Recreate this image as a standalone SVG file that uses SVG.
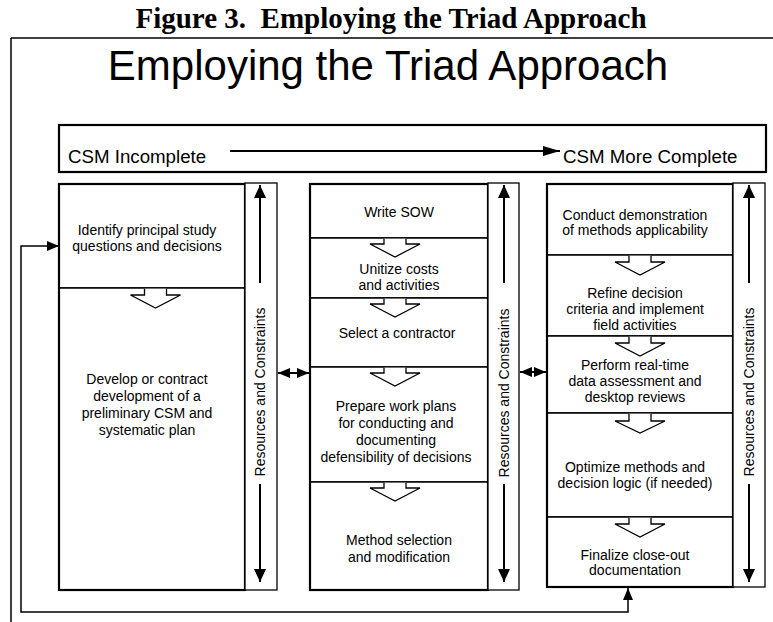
<svg xmlns="http://www.w3.org/2000/svg" width="773" height="622" viewBox="0 0 773 622">
<style>
  text { font-family: "Liberation Sans", Arial, sans-serif; fill: #000; }
  .t { font-size: 14px; text-anchor: middle; }
  .cell { fill: #fff; stroke: #000; stroke-width: 1.5; }
  .col { fill: none; stroke: #000; stroke-width: 2.2; }
  .strip { fill: #fff; stroke: #000; stroke-width: 1.3; }
  .chev { fill: #fff; stroke: #000; stroke-width: 1.3; }
  .ln { fill: none; stroke: #000; }
</style>
<defs>
  <marker id="ah" markerUnits="userSpaceOnUse" markerWidth="13" markerHeight="13" refX="13" refY="6" orient="auto-start-reverse">
    <path d="M0,0 L13,6 L0,12 z" fill="#000"/>
  </marker>
  <marker id="dbl" markerUnits="userSpaceOnUse" markerWidth="12" markerHeight="10" refX="12" refY="5" orient="auto-start-reverse">
    <path d="M0,0 L12,5 L0,10 z" fill="#000"/>
  </marker>
  <marker id="big" markerUnits="userSpaceOnUse" markerWidth="17" markerHeight="10" refX="17" refY="5" orient="auto">
    <path d="M0,0 L17,5 L0,10 z" fill="#000"/>
  </marker>
  <marker id="fb" markerUnits="userSpaceOnUse" markerWidth="12" markerHeight="10" refX="12" refY="5" orient="auto-start-reverse">
    <path d="M0,0 L12,5 L0,10 z" fill="#000"/>
  </marker>
</defs>
<rect width="773" height="622" fill="#fff"/>

<text x="391" y="28" xml:space="preserve" style="font-family:'Liberation Serif','Times New Roman',serif;font-weight:bold;font-size:29px;text-anchor:middle">Figure 3.  Employing the Triad Approach</text>
<g id="frame">
  <line x1="11" y1="38" x2="773" y2="38" stroke="#000" stroke-width="1.5"/>
  <line x1="11" y1="38" x2="11" y2="622" stroke="#000" stroke-width="1.5"/>
</g>
<text x="388" y="80" style="font-size:42px;text-anchor:middle">Employing the Triad Approach</text>

<g id="csm-bar">
  <rect x="59" y="125" width="707" height="47" fill="#fff" stroke="#000" stroke-width="2.2"/>
  <text x="68" y="163" style="font-size:18.7px">CSM Incomplete</text>
  <text x="563" y="163" style="font-size:18.7px">CSM More Complete</text>
</g>

<!-- Left column -->
<g id="step-identify">
  <rect class="cell" x="59" y="184" width="186" height="104"/>
  <text class="t" x="147" y="235">Identify principal study</text>
  <text class="t" x="147" y="251">questions and decisions</text>
</g>
<g id="step-develop">
  <rect class="cell" x="59" y="288" width="186" height="302"/>
  <text class="t" x="147" y="384">Develop or contract</text>
  <text class="t" x="147" y="401">development of a</text>
  <text class="t" x="147" y="418">preliminary CSM and</text>
  <text class="t" x="147" y="435">systematic plan</text>
</g>
<rect class="col" x="59" y="184" width="186" height="406"/>
<g id="rc-left">
  <rect class="strip" x="245" y="183" width="32" height="407"/>
  <text class="t" transform="translate(265,392) rotate(-90)">Resources and Constraints</text>
</g>

<!-- Middle column -->
<g id="step-sow">
  <rect class="cell" x="310" y="184" width="178" height="54"/>
  <text class="t" x="399" y="217">Write SOW</text>
</g>
<g id="step-unitize">
  <rect class="cell" x="310" y="238" width="178" height="60"/>
  <text class="t" x="399" y="274">Unitize costs</text>
  <text class="t" x="399" y="290">and activities</text>
</g>
<g id="step-contractor">
  <rect class="cell" x="310" y="298" width="178" height="69"/>
  <text class="t" x="397" y="338">Select a contractor</text>
</g>
<g id="step-workplans">
  <rect class="cell" x="310" y="367" width="178" height="115"/>
  <text class="t" x="396" y="411">Prepare work plans</text>
  <text class="t" x="396" y="428">for conducting and</text>
  <text class="t" x="396" y="445">documenting</text>
  <text class="t" x="396" y="462">defensibility of decisions</text>
</g>
<g id="step-method">
  <rect class="cell" x="310" y="482" width="178" height="108"/>
  <text class="t" x="399" y="545">Method selection</text>
  <text class="t" x="399" y="562">and modification</text>
</g>
<rect class="col" x="310" y="184" width="178" height="406"/>
<g id="rc-middle">
  <rect class="strip" x="488" y="183" width="31" height="407"/>
  <text class="t" transform="translate(509,393) rotate(-90)">Resources and Constraints</text>
</g>

<!-- Right column -->
<g id="step-demo">
  <rect class="cell" x="547" y="184" width="186" height="71"/>
  <text class="t" x="635" y="220">Conduct demonstration</text>
  <text class="t" x="635" y="235">of methods applicability</text>
</g>
<g id="step-refine">
  <rect class="cell" x="547" y="255" width="186" height="81"/>
  <text class="t" x="635" y="298">Refine decision</text>
  <text class="t" x="635" y="314">criteria and implement</text>
  <text class="t" x="635" y="330">field activities</text>
</g>
<g id="step-realtime">
  <rect class="cell" x="547" y="336" width="186" height="77"/>
  <text class="t" x="635" y="370">Perform real-time</text>
  <text class="t" x="635" y="386">data assessment and</text>
  <text class="t" x="635" y="402">desktop reviews</text>
</g>
<g id="step-optimize">
  <rect class="cell" x="547" y="413" width="186" height="104"/>
  <text class="t" x="635" y="472">Optimize methods and</text>
  <text class="t" x="635" y="488">decision logic (if needed)</text>
</g>
<g id="step-finalize">
  <rect class="cell" x="547" y="517" width="186" height="70"/>
  <text class="t" x="635" y="560">Finalize close-out</text>
  <text class="t" x="635" y="575">documentation</text>
</g>
<rect class="col" x="547" y="184" width="186" height="403"/>
<g id="rc-right">
  <rect class="strip" x="733" y="183" width="32" height="404"/>
  <text class="t" transform="translate(754,392) rotate(-90)">Resources and Constraints</text>
</g>

<g id="connectors">
  <!-- CSM progression arrow -->
  <line class="ln" x1="230" y1="151" x2="560" y2="151" stroke-width="2" marker-end="url(#big)"/>
  <!-- step chevrons -->
  <path class="chev" d="M144.5,288.8 V295 H130.5 L155.5,308 L180.5,295 H166.5 V288.8"/>
  <path class="chev" d="M384,238.8 V244 H370 L395,257 L420,244 H406 V238.8"/>
  <path class="chev" d="M384,298.8 V304 H370 L395,317 L420,304 H406 V298.8"/>
  <path class="chev" d="M384,367.8 V373 H370 L395,386 L420,373 H406 V367.8"/>
  <path class="chev" d="M384,482.8 V488 H370 L395,501 L420,488 H406 V482.8"/>
  <path class="chev" d="M629,255.8 V262 H615 L640,275 L665,262 H651 V255.8"/>
  <path class="chev" d="M629,336.8 V343 H615 L640,356 L665,343 H651 V336.8"/>
  <path class="chev" d="M629,413.8 V421 H615 L640,433 L665,421 H651 V413.8"/>
  <path class="chev" d="M629,517.8 V524 H615 L640,537 L665,524 H651 V517.8"/>
  <!-- resources and constraints arrows -->
  <line class="ln" x1="260" y1="283" x2="260" y2="185" stroke-width="2" marker-end="url(#ah)"/>
  <line class="ln" x1="260" y1="484" x2="260" y2="582" stroke-width="2" marker-end="url(#ah)"/>
  <line class="ln" x1="504" y1="283" x2="504" y2="185" stroke-width="2" marker-end="url(#ah)"/>
  <line class="ln" x1="504" y1="484" x2="504" y2="582" stroke-width="2" marker-end="url(#ah)"/>
  <line class="ln" x1="749" y1="283" x2="749" y2="185" stroke-width="2" marker-end="url(#ah)"/>
  <line class="ln" x1="749" y1="484" x2="749" y2="582" stroke-width="2" marker-end="url(#ah)"/>
  <!-- double arrows between columns -->
  <line class="ln" x1="278" y1="373" x2="309" y2="373" stroke-width="2" marker-start="url(#dbl)" marker-end="url(#dbl)"/>
  <line class="ln" x1="520" y1="372" x2="546" y2="372" stroke-width="2" marker-start="url(#dbl)" marker-end="url(#dbl)"/>
  <!-- feedback loop -->
  <path class="ln" d="M628,588 V612 H21 V246 H59" stroke-width="1.5" marker-start="url(#fb)" marker-end="url(#fb)"/>
</g>
</svg>
